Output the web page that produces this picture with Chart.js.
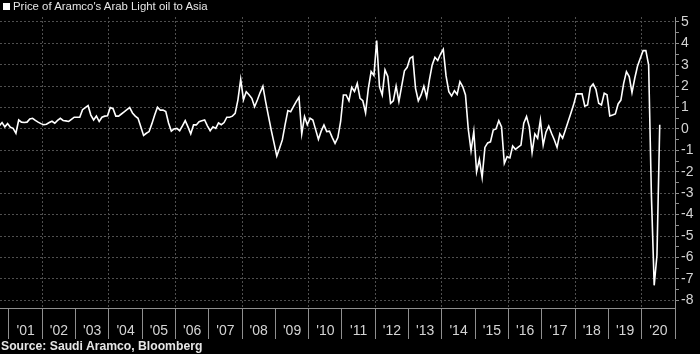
<!DOCTYPE html>
<html>
<head>
<meta charset="utf-8">
<title>Price of Aramco's Arab Light oil to Asia</title>
<script src="https://cdn.jsdelivr.net/npm/chart.js@4/dist/chart.umd.min.js"></script>
<style>
  html, body { margin: 0; padding: 0; background: #000; }
  #wrap { position: relative; width: 700px; height: 354px; overflow: hidden; }
  #chart { position: absolute; left: 0; top: 0; }
  .legend {
    position: absolute; left: 3px; top: 1px;
    font: 11.4px "Liberation Sans", Arial, sans-serif; line-height: 11px;
    color: #e6e6e6; white-space: nowrap;
  }
  .legend .box {
    position: absolute; left: 0; top: 2px; width: 7px; height: 7px; background: #fff;
  }
  .legend .txt { position: absolute; left: 10px; top: 0; }
  .source {
    position: absolute; left: 1px; top: 340px;
    font: bold 12.2px "Liberation Sans", Arial, sans-serif; line-height: 12px;
    color: #e6e6e6; white-space: nowrap;
  }
</style>
</head>
<body>
<div id="wrap">
  <canvas id="chart" width="700" height="354"></canvas>
  <div class="legend"><span class="box"></span><span class="txt">Price of Aramco's Arab Light oil to Asia</span></div>
  <div class="source">Source: Saudi Aramco, Bloomberg</div>
</div>

<script>
// ------------------------------------------------------------
// Data : monthly OSP vs Oman/Dubai ($/bbl), Sep 2000 -> Jul 2020
// ------------------------------------------------------------
const startYear  = 2000;
const startMonth = 9;

const prices = [
  /* 2000 */ 0.15, 0.3, 0.1, 0.25,
  /* 2001 */ 0.08, 0.03, -0.2, 0.42, 0.32, 0.3, 0.32, 0.47, 0.5, 0.4, 0.32, 0.25,
  /* 2002 */ 0.2, 0.22, 0.3, 0.36, 0.27, 0.4, 0.5, 0.4, 0.38, 0.35, 0.45, 0.55,
  /* 2003 */ 0.55, 0.55, 0.9, 1.0, 1.09, 0.65, 0.42, 0.6, 0.35, 0.55, 0.6, 0.62,
  /* 2004 */ 1.0, 0.95, 0.6, 0.6, 0.7, 0.8, 0.9, 1.0, 0.75, 0.6, 0.5, 0.1,
  /* 2005 */ -0.3, -0.2, -0.12, 0.25, 0.65, 1.02, 0.88, 0.88, 0.81, 0.28, -0.1, 0.0,
  /* 2006 */ 0.03, -0.08, 0.15, 0.39, 0.1, -0.23, 0.19, 0.19, 0.34, 0.38, 0.42, 0.15,
  /* 2007 */ -0.08, 0.1, 0.03, 0.28, 0.2, 0.3, 0.55, 0.55, 0.6, 0.73, 1.36, 2.32,
  /* 2008 */ 1.36, 1.74, 1.6, 1.43, 1.04, 1.35, 1.7, 2.0, 1.27, 0.6, -0.05, -0.65,
  /* 2009 */ -1.26, -0.9, -0.51, 0.2, 0.86, 0.81, 1.05, 1.28, 1.48, -0.23, 0.58, 0.2,
  /* 2010 */ 0.5, 0.42, -0.03, -0.48, -0.1, 0.19, -0.12, -0.1, -0.4, -0.67, -0.4, 0.34,
  /* 2011 */ 1.59, 1.59, 1.32, 1.95, 1.75, 2.13, 1.43, 1.32, 0.76, 1.9, 2.68, 2.5,
  /* 2012 */ 4.13, 1.98, 1.59, 2.76, 2.45, 1.2, 1.32, 2.0, 1.28, 2.0, 2.72, 2.88,
  /* 2013 */ 3.3, 3.38, 1.9, 1.32, 1.59, 2.0, 1.48, 2.29, 2.99, 3.35, 3.2, 3.5,
  /* 2014 */ 3.72, 2.48, 1.74, 1.54, 1.79, 1.62, 2.21, 1.98, 1.59, 0.0, -1.01, -0.12,
  /* 2015 */ -2.0, -1.42, -2.26, -0.86, -0.65, -0.6, -0.05, 0.0, 0.39, 0.1, -1.6, -1.29,
  /* 2016 */ -1.35, -0.79, -0.95, -0.85, -0.75, 0.27, 0.58, 0.1, -1.1, -0.23, -0.43, 0.42,
  /* 2017 */ -0.75, -0.15, 0.14, -0.2, -0.5, -0.86, -0.23, -0.43, -0.05, 0.35, 0.75, 1.15,
  /* 2018 */ 1.64, 1.64, 1.64, 1.07, 1.12, 1.95, 2.1, 1.85, 1.2, 1.12, 1.67, 1.6,
  /* 2019 */ 0.61, 0.65, 0.7, 1.17, 1.35, 2.13, 2.68, 2.45, 1.7, 2.37, 2.94, 3.3,
  /* 2020 */ 3.66, 3.66, 2.99, -3.1, -7.3, -5.9, 0.2,
];

// year boundaries on the x axis ('01 .. '20 sit between them)
const yearTicks = [2001, 2002, 2003, 2004, 2005, 2006, 2007, 2008, 2009, 2010,
                   2011, 2012, 2013, 2014, 2015, 2016, 2017, 2018, 2019, 2020, 2021];

// y axis : labelled integers, small marks every half unit
const yTicks = [-8, -7.5, -7, -6.5, -6, -5.5, -5, -4.5, -4, -3.5, -3, -2.5, -2, -1.5,
                -1, -0.5, 0, 0.5, 1, 1.5, 2, 2.5, 3, 3.5, 4, 4.5, 5];

// ------------------------------------------------------------
// Points (x = decimal year, mid-month)
// ------------------------------------------------------------
const points = prices.map((v, i) => ({
  x: startYear + (startMonth - 1 + i + 0.5) / 12,
  y: v,
}));

const GRID  = '#4f4f4f';
const AXIS  = '#8f8f8f';
const LABEL = '#d4d4d4';
const FONT  = '"Liberation Sans", Arial, sans-serif';

new Chart(document.getElementById('chart'), {
  type: 'line',
  data: {
    datasets: [{
      label: "Price of Aramco's Arab Light oil to Asia",
      data: points,
      borderColor: '#ffffff',
      borderWidth: 1.6,
      pointRadius: 0,
      tension: 0,
    }],
  },
  options: {
    responsive: false,
    animation: false,
    devicePixelRatio: 1,
    layout: { padding: { top: 17, left: 0, right: 0, bottom: 0 } },
    plugins: {
      legend:  { display: false },
      tooltip: { enabled: false },
    },
    scales: {
      x: {
        type: 'linear',
        position: 'bottom',
        min: 2000.73,
        max: 2021,
        afterBuildTicks: (scale) => { scale.ticks = yearTicks.map((v) => ({ value: v })); },
        afterFit: (scale) => { scale.height = 46; },
        grid: {
          color: (ctx) => (ctx.tick && ctx.tick.value % 2 === 0 ? GRID : 'rgba(0,0,0,0)'),
          tickColor: AXIS,
          tickLength: 31,
          lineWidth: 1,
        },
        border: { display: true, color: AXIS, width: 1, dash: [2, 2] },
        ticks: {
          color: LABEL,
          font: { family: FONT, size: 14 },
          autoSkip: false,
          maxRotation: 0,
          labelOffset: 16.65,
          padding: -16,
          callback: (v) => (v === 2021 ? '' : "'" + String(v).slice(2)),
        },
      },
      y: {
        position: 'right',
        min: -8.36,
        max: 5.23,
        afterBuildTicks: (scale) => { scale.ticks = yTicks.map((v) => ({ value: v })); },
        afterFit: (scale) => { scale.width = 25; },
        grid: {
          color: (ctx) => (ctx.tick && Number.isInteger(ctx.tick.value) ? GRID : 'rgba(0,0,0,0)'),
          tickColor: AXIS,
          tickLength: 4,
          lineWidth: 1,
        },
        border: { display: true, color: AXIS, width: 1, dash: [2, 2] },
        ticks: {
          color: LABEL,
          font: { family: FONT, size: 14 },
          padding: 2,
          autoSkip: false,
          callback: (v) => (Number.isInteger(v) ? String(v) : ''),
        },
      },
    },
  },
});
</script>
</body>
</html>
